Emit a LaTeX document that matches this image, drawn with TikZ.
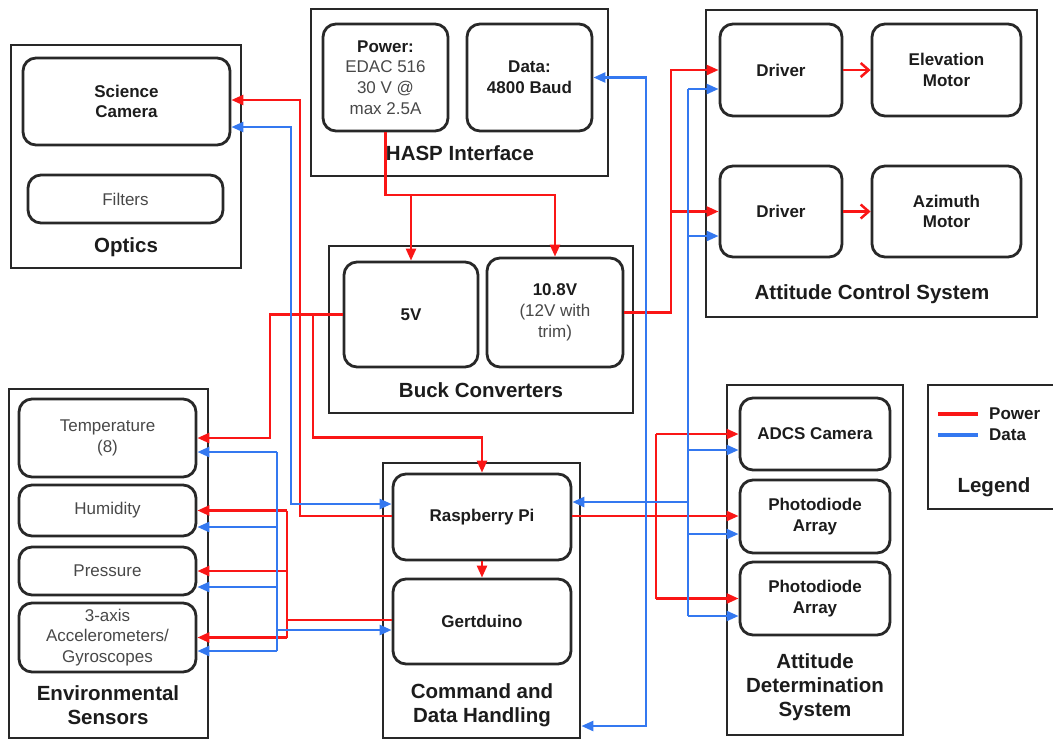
\documentclass[tikz,border=0pt]{standalone}
\usepackage{fontspec}
\setmainfont{Liberation Sans}
\usetikzlibrary{arrows.meta}

\definecolor{pwrred}{RGB}{250,22,22}
\definecolor{datblue}{RGB}{52,120,240}
\definecolor{edge}{RGB}{40,40,40}
\definecolor{ink}{RGB}{28,28,28}
\definecolor{soft}{RGB}{72,72,72}

\newcommand\softtxt[1]{{\mdseries\color{soft}#1}}

\tikzset{
  group/.style={draw=edge, line width=2.8pt, inner sep=0pt},
  unit/.style={draw=edge, line width=2.8pt, rounded corners=13pt, inner sep=0pt,
    align=center, text=ink, font=\fontsize{17}{20.8}\selectfont\bfseries},
  title/.style={align=center, text=ink, font=\fontsize{20.5}{24}\selectfont\bfseries},
  legtxt/.style={anchor=west, inner sep=0pt, text=ink, font=\fontsize{17}{20}\selectfont\bfseries},
  pw/.style={draw=pwrred, line width=2.5pt},
  dt/.style={draw=datblue, line width=2.5pt},
  tip/.style={-{Triangle[length=12pt,width=10pt]}},
  both/.style={{Triangle[length=12pt,width=10pt]}-{Triangle[length=12pt,width=10pt]}},
  barb/.style={-{Straight Barb[length=8pt,width=14pt]}}
}

\begin{document}
\begin{tikzpicture}[x=1pt,y=-1pt]
\useasboundingbox (0,0) rectangle (1053,740);
\clip (0,0) rectangle (1053,740);

% ---------- Optics ----------
\node[group, minimum width=230pt, minimum height=223pt] (optics) at (126,156.5) {};
\node[unit, minimum width=207pt, minimum height=87pt] (sci) at (126.5,101.5) {Science\\Camera};
\node[unit, minimum width=195pt, minimum height=48pt] (filt) at (125.5,199) {\softtxt{Filters}};
\node[title] (optT) at (126,247) {Optics};

% ---------- HASP interface ----------
\node[group, minimum width=297pt, minimum height=167pt] (hasp) at (459.5,92.5) {};
\node[unit, minimum width=125pt, minimum height=107pt] (pwr) at (385.5,77.5)
  {Power:\\\softtxt{EDAC 516}\\\softtxt{30 V @}\\\softtxt{max 2.5A}};
\node[unit, minimum width=125pt, minimum height=107pt] (dat) at (529.5,77.5) {Data:\\4800 Baud};
\node[title] (haspT) at (460,153) {HASP Interface};

% ---------- Attitude control ----------
\node[group, minimum width=331pt, minimum height=307pt] (acs) at (871.5,163.5) {};
\node[unit, minimum width=122pt, minimum height=92pt] (drv1) at (781,70) {Driver};
\node[unit, minimum width=149pt, minimum height=92pt] (elev) at (946.5,70) {Elevation\\Motor};
\node[unit, minimum width=122pt, minimum height=91pt] (drv2) at (781,211.5) {Driver};
\node[unit, minimum width=149pt, minimum height=91pt] (azi) at (946.5,211.5) {Azimuth\\Motor};
\node[title] (acsT) at (872,294) {Attitude Control System};

% ---------- Buck converters ----------
\node[group, minimum width=304pt, minimum height=167pt] (buck) at (481,329.5) {};
\node[unit, minimum width=134pt, minimum height=105pt] (v5) at (411,314.5) {5V};
\node[unit, minimum width=136pt, minimum height=109pt] (v10) at (555,312.5)
  {10.8V\\\softtxt{(12V with}\\\softtxt{trim)}};
\node[title] (buckT) at (481,390) {Buck Converters};

% ---------- Environmental sensors ----------
\node[group, minimum width=199pt, minimum height=349pt] (env) at (108.5,563.5) {};
\node[unit, minimum width=177pt, minimum height=78pt] (temp) at (107.5,438) {\softtxt{Temperature}\\\softtxt{(8)}};
\node[unit, minimum width=177pt, minimum height=51pt] (hum) at (107.5,510.5) {\softtxt{Humidity}};
\node[unit, minimum width=177pt, minimum height=48pt] (pres) at (107.5,571) {\softtxt{Pressure}};
\node[unit, minimum width=177pt, minimum height=69pt] (acc) at (107.5,637.5)
  {\softtxt{3-axis}\\\softtxt{Accelerometers/}\\\softtxt{Gyroscopes}};
\node[title] (envT) at (108,705) {Environmental\\Sensors};

% ---------- Command and data handling ----------
\node[group, minimum width=197pt, minimum height=275pt] (cdh) at (481.5,600.5) {};
\node[unit, minimum width=178pt, minimum height=86pt] (rpi) at (482,517) {Raspberry Pi};
\node[unit, minimum width=178pt, minimum height=85pt] (gert) at (482,621.5) {Gertduino};
\node[title] (cdhT) at (482,705) {Command and\\Data Handling};

% ---------- Attitude determination ----------
\node[group, minimum width=176pt, minimum height=350pt] (ads) at (815,560) {};
\node[unit, minimum width=150pt, minimum height=72pt] (adcs) at (815,434) {ADCS Camera};
\node[unit, minimum width=150pt, minimum height=73pt] (pd1) at (815,516.5) {Photodiode\\Array};
\node[unit, minimum width=150pt, minimum height=73pt] (pd2) at (815,598.5) {Photodiode\\Array};
\node[title] (adsT) at (815,687.5) {Attitude\\Determination\\System};

% ---------- Legend ----------
\node[group, minimum width=142pt, minimum height=124pt] (leg) at (999,447) {};
\node[legtxt] (lp) at (989,414) {Power};
\node[legtxt] (ld) at (989,435) {Data};
\node[title] (legT) at (994,487) {Legend};
\coordinate (lpa) at (938,414);
\coordinate (lda) at (938,435);
\draw[pwrred, line width=3.6pt] (lpa) -- ([xshift=-11pt]lp.west);
\draw[datblue, line width=3.6pt] (lda) -- ([xshift=-11pt]lp.west |- ld.west);

% ---------- Power wiring ----------
% HASP power feed splits to both converters
\coordinate (hj) at (385.5,195);
\draw[pw,tip] (pwr.south) -- (hj) -| (v10.north);
\draw[pw,tip] (hj -| v5.north) -- (v5.north);

% 10.8 V rail to the motor drivers
\coordinate (dj) at (671,312.5);
\draw[pw,tip] (v10.east) -- (dj) |- (drv1.west);
\draw[pw,tip] (dj |- drv2.west) -- (drv2.west);
\draw[pw,barb] (drv1.east) -- (elev.west);
\draw[pw,barb] (drv2.east) -- (azi.west);

% 5 V rail to temperature sensors and the Raspberry Pi
\coordinate (fj) at (270,314.5);
\draw[pw,tip] (v5.west) -- (fj) |- (temp.east);
\coordinate (rj) at (313,314.5);
\coordinate (rk) at (313,437.5);
\draw[pw,tip] (rj) -- (rk) -| (rpi.north);

% Raspberry Pi powers the science camera
\coordinate (sc) at (300,516);
\draw[pw,tip] (sc -| rpi.west) -- (sc) |- ([yshift=1.5pt]sci.east);

% Raspberry Pi to Gertduino
\draw[pw,tip] (rpi.south) -- (gert.north);

% Gertduino power bus to the sensors
\coordinate (gp) at (287,620);
\draw[pw] (gp -| gert.west) -- (gp);
\draw[pw] (hum.east -| gp) -- (acc.east -| gp);
\draw[pw,tip] (hum.east -| gp) -- (hum.east);
\draw[pw,tip] (pres.east -| gp) -- (pres.east);
\draw[pw,tip] (acc.east -| gp) -- (acc.east);

% Raspberry Pi power to attitude determination
\coordinate (ap) at (656,516);
\draw[pw,tip] (ap -| rpi.east) -- (ap -| pd1.west);
\draw[pw] (adcs.west -| ap) -- (pd2.west -| ap);
\draw[pw,tip] (adcs.west -| ap) -- (adcs.west);
\draw[pw,tip] (pd2.west -| ap) -- (pd2.west);

% ---------- Data wiring ----------
% science camera link
\coordinate (sd) at (291,504);
\draw[dt,both] ([yshift=-25.5pt]sci.east) -| (sd) -- ([yshift=13pt]rpi.west);

% sensor data bus
\coordinate (gd) at (277,630);
\draw[dt,tip] (gd) -- ([yshift=-8.5pt]gert.west);
\coordinate (s1) at ([yshift=-14pt]temp.east);
\coordinate (s2) at ([yshift=-16.5pt]hum.east);
\coordinate (s3) at ([yshift=-16pt]pres.east);
\coordinate (s4) at ([yshift=-13.5pt]acc.east);
\draw[dt] (s1 -| gd) -- (s4 -| gd);
\draw[dt,tip] (s1 -| gd) -- (s1);
\draw[dt,tip] (s2 -| gd) -- (s2);
\draw[dt,tip] (s3 -| gd) -- (s3);
\draw[dt,tip] (s4 -| gd) -- (s4);

% HASP serial link
\coordinate (hd) at (646,726);
\draw[dt,both] (dat.east) -| (hd) -- (hd -| cdh.east);

% attitude data bus
\coordinate (bus) at (688,0);
\coordinate (t1) at ([yshift=-19pt]drv1.west);
\coordinate (t2) at ([yshift=-24.5pt]drv2.west);
\coordinate (t3) at ([yshift=-16pt]adcs.west);
\coordinate (t4) at ([yshift=-17.5pt]pd1.west);
\coordinate (t5) at ([yshift=-17.5pt]pd2.west);
\coordinate (t6) at ([yshift=15pt]rpi.east);
\draw[dt] (bus |- t1) -- (bus |- t5);
\draw[dt,tip] (bus |- t1) -- (t1);
\draw[dt,tip] (bus |- t2) -- (t2);
\draw[dt,tip] (bus |- t3) -- (t3);
\draw[dt,tip] (bus |- t4) -- (t4);
\draw[dt,tip] (bus |- t5) -- (t5);
\draw[dt,tip] (bus |- t6) -- (t6);

\end{tikzpicture}
\end{document}
